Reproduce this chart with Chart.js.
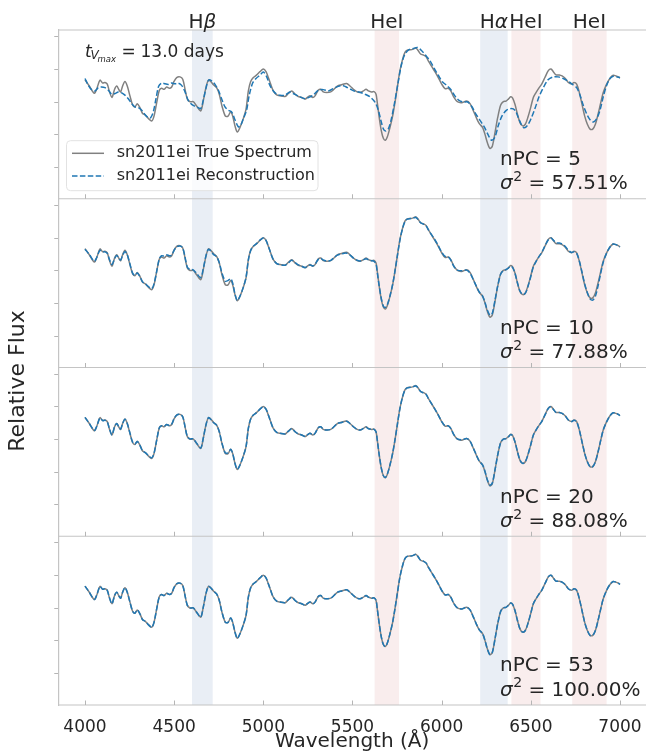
<!DOCTYPE html>
<html><head><meta charset="utf-8">
<script src="https://cdn.jsdelivr.net/npm/chart.js@4.4.1/dist/chart.umd.min.js"></script>
<style>html,body{margin:0;padding:0;background:#fff;}canvas{display:block;}</style>
</head><body>
<canvas id="c" width="646" height="756" style="width:646px;height:756px"></canvas>
<script>
// ---------- data ----------
const waveTrue = [4000,4024,4052,4065,4084,4099,4112,4125,4136,4151,
 4166,4178,4192,4200,4211,4224,4237,4252,4267,4280,
 4293,4308,4323,4338,4355,4374,4387,4402,4417,4430,
 4443,4458,4473,4486,4499,4514,4533,4548,4561,4574,
 4589,4607,4626,4649,4663,4678,4692,4705,4720,4738,
 4753,4768,4787,4802,4817,4828,4841,4854,4869,4888,
 4903,4916,4929,4944,4963,4981,5000,5015,5028,5041,
 5056,5075,5094,5122,5140,5159,5178,5196,5215,5234,
 5247,5262,5277,5290,5308,5322,5336,5355,5378,5396,
 5415,5439,5467,5486,5505,5523,5542,5561,5576,5589,
 5607,5621,5632,5639,5650,5662,5673,5684,5695,5710,
 5725,5738,5751,5766,5781,5794,5807,5826,5841,5856,
 5869,5882,5897,5912,5925,5944,5962,5981,6000,6019,
 6037,6051,6069,6088,6112,6140,6159,6178,6196,6211,
 6230,6243,6256,6271,6284,6299,6314,6331,6346,6361,
 6374,6387,6398,6411,6424,6439,6454,6469,6484,6499,
 6514,6529,6544,6561,6579,6598,6613,6626,6641,6660,
 6675,6692,6710,6729,6742,6757,6772,6787,6802,6817,
 6832,6847,6862,6877,6892,6906,6925,6944,6962,6977,
 6990,7000];
const fluxTrue = [3.68,3.49,3.27,3.39,3.67,3.58,3.60,3.55,3.34,3.14,
 3.39,3.49,3.36,3.31,3.49,3.63,3.49,3.19,2.91,2.85,
 2.95,2.83,2.65,2.60,2.50,2.42,2.57,2.98,3.36,3.42,
 3.39,3.46,3.42,3.46,3.63,3.75,3.77,3.70,3.39,3.09,
 3.01,3.01,2.88,2.73,3.03,3.44,3.67,3.63,3.53,3.44,
 3.24,2.88,2.57,2.57,2.70,2.57,2.27,2.08,2.22,2.50,
 2.78,3.34,3.63,3.75,3.83,3.93,4.01,3.93,3.75,3.55,
 3.34,3.22,3.19,3.17,3.26,3.34,3.24,3.17,3.14,3.09,
 3.14,3.19,3.14,3.19,3.36,3.39,3.31,3.29,3.31,3.39,
 3.49,3.53,3.57,3.49,3.39,3.32,3.29,3.34,3.39,3.34,
 3.31,3.32,3.24,2.98,2.52,2.11,1.89,1.83,1.93,2.22,
 2.57,2.98,3.44,3.96,4.31,4.52,4.59,4.60,4.62,4.65,
 4.57,4.47,4.44,4.39,4.26,4.09,3.93,3.75,3.55,3.41,
 3.42,3.34,3.14,3.01,2.98,3.03,2.95,2.73,2.50,2.34,
 2.22,2.01,1.76,1.58,1.65,2.06,2.52,2.91,3.01,3.03,
 3.09,3.16,3.12,2.93,2.65,2.37,2.27,2.32,2.54,2.83,
 3.14,3.29,3.42,3.55,3.75,3.96,4.01,3.93,3.83,3.83,
 3.80,3.73,3.60,3.55,3.60,3.55,3.29,2.93,2.57,2.32,
 2.17,2.17,2.32,2.63,2.98,3.29,3.55,3.73,3.82,3.80,
 3.77,3.73];
const waveRecon5 = [4000,4019,4037,4056,4075,4093,4112,4131,4150,4168,
 4187,4206,4224,4243,4262,4280,4299,4318,4336,4355,
 4368,4383,4398,4413,4430,4449,4467,4486,4505,4523,
 4542,4561,4579,4598,4617,4635,4649,4663,4678,4693,
 4710,4729,4748,4766,4785,4804,4822,4841,4860,4873,
 4888,4906,4921,4940,4959,4981,5000,5019,5037,5056,
 5075,5093,5121,5149,5168,5205,5234,5262,5280,5308,
 5336,5364,5392,5420,5448,5472,5490,5514,5542,5570,
 5598,5626,5645,5660,5673,5686,5701,5716,5735,5753,
 5772,5791,5813,5841,5865,5888,5910,5935,5959,5981,
 6004,6028,6052,6075,6097,6121,6146,6168,6191,6215,
 6239,6262,6280,6299,6318,6340,6364,6389,6411,6430,
 6449,6464,6482,6501,6523,6546,6570,6598,6626,6654,
 6682,6706,6733,6757,6776,6794,6813,6832,6850,6869,
 6888,6906,6925,6944,6962,6981,7000];
const fluxRecon5 = [3.72,3.51,3.38,3.34,3.44,3.46,3.44,3.36,3.24,3.26,
 3.31,3.28,3.21,3.10,2.95,2.85,2.83,2.75,2.62,2.52,
 2.52,2.70,3.10,3.48,3.58,3.56,3.54,3.58,3.56,3.58,
 3.51,3.31,3.05,2.93,2.87,2.83,2.80,3.05,3.41,3.67,
 3.65,3.54,3.36,3.10,2.85,2.75,2.70,2.46,2.24,2.29,
 2.49,2.75,3.21,3.58,3.72,3.82,3.92,3.77,3.51,3.34,
 3.24,3.21,3.21,3.31,3.26,3.16,3.10,3.16,3.21,3.36,
 3.38,3.34,3.41,3.48,3.50,3.44,3.39,3.33,3.30,3.24,
 3.16,3.00,2.75,2.42,2.18,2.11,2.18,2.44,2.95,3.51,
 4.08,4.43,4.59,4.64,4.67,4.57,4.43,4.26,4.02,3.82,
 3.62,3.51,3.38,3.18,3.05,3.00,3.00,2.87,2.64,2.44,
 2.24,1.98,1.83,1.93,2.29,2.59,2.75,2.80,2.75,2.52,
 2.29,2.21,2.29,2.49,2.80,3.16,3.44,3.69,3.77,3.77,
 3.72,3.65,3.54,3.44,3.21,2.90,2.64,2.46,2.39,2.49,
 2.75,3.16,3.51,3.72,3.79,3.77,3.75];
const fluxRecon10 = [3.66,3.50,3.29,3.40,3.63,3.58,3.58,3.53,3.36,3.19,
 3.37,3.47,3.36,3.33,3.47,3.59,3.49,3.21,2.93,2.86,
 2.93,2.82,2.66,2.60,2.52,2.45,2.60,2.98,3.37,3.46,
 3.45,3.49,3.46,3.48,3.62,3.73,3.76,3.70,3.42,3.11,
 3.04,3.03,2.92,2.79,3.06,3.45,3.66,3.61,3.50,3.43,
 3.25,2.93,2.68,2.70,2.76,2.63,2.29,2.09,2.22,2.50,
 2.80,3.33,3.62,3.75,3.84,3.94,4.00,3.93,3.75,3.55,
 3.34,3.22,3.19,3.17,3.24,3.32,3.25,3.18,3.14,3.10,
 3.14,3.18,3.15,3.20,3.35,3.38,3.33,3.30,3.32,3.40,
 3.48,3.52,3.54,3.48,3.39,3.33,3.30,3.34,3.37,3.34,
 3.31,3.29,3.20,2.95,2.52,2.14,1.92,1.88,1.96,2.23,
 2.58,2.99,3.44,3.94,4.30,4.50,4.58,4.60,4.62,4.63,
 4.56,4.47,4.43,4.38,4.26,4.10,3.95,3.77,3.57,3.44,
 3.43,3.33,3.13,3.02,3.00,3.02,2.93,2.72,2.51,2.35,
 2.22,2.03,1.80,1.64,1.70,2.10,2.53,2.90,3.01,3.04,
 3.08,3.14,3.10,2.93,2.65,2.38,2.28,2.31,2.52,2.81,
 3.12,3.28,3.42,3.56,3.76,3.95,4.00,3.94,3.86,3.85,
 3.82,3.75,3.63,3.56,3.58,3.53,3.30,2.96,2.60,2.33,
 2.14,2.10,2.22,2.54,2.93,3.26,3.54,3.73,3.82,3.80,
 3.77,3.73];
const fluxRecon20 = [3.68,3.49,3.28,3.39,3.66,3.58,3.59,3.54,3.35,3.14,
 3.39,3.49,3.36,3.32,3.49,3.62,3.49,3.20,2.92,2.86,
 2.94,2.82,2.65,2.60,2.51,2.44,2.58,2.98,3.36,3.42,
 3.40,3.46,3.43,3.47,3.63,3.75,3.77,3.70,3.39,3.09,
 3.02,3.02,2.89,2.74,3.04,3.44,3.67,3.62,3.52,3.44,
 3.24,2.89,2.59,2.59,2.70,2.58,2.27,2.09,2.22,2.50,
 2.78,3.34,3.63,3.75,3.83,3.93,4.00,3.93,3.75,3.55,
 3.34,3.22,3.19,3.17,3.25,3.33,3.24,3.17,3.14,3.09,
 3.14,3.19,3.14,3.19,3.36,3.39,3.32,3.29,3.31,3.39,
 3.49,3.52,3.56,3.49,3.39,3.32,3.29,3.34,3.38,3.33,
 3.31,3.31,3.23,2.98,2.52,2.12,1.90,1.84,1.94,2.22,
 2.58,2.98,3.44,3.95,4.31,4.51,4.58,4.60,4.62,4.64,
 4.57,4.47,4.43,4.39,4.26,4.09,3.93,3.75,3.55,3.42,
 3.42,3.34,3.14,3.02,2.99,3.03,2.95,2.73,2.51,2.34,
 2.22,2.02,1.77,1.60,1.67,2.07,2.52,2.91,3.01,3.03,
 3.08,3.15,3.11,2.93,2.65,2.37,2.27,2.32,2.54,2.83,
 3.13,3.29,3.42,3.55,3.75,3.95,4.00,3.93,3.83,3.83,
 3.80,3.73,3.60,3.55,3.59,3.54,3.29,2.93,2.58,2.32,
 2.17,2.17,2.32,2.62,2.98,3.29,3.54,3.73,3.82,3.80,
 3.77,3.73];
// with all 53 components the reconstruction coincides with the true spectrum
const fluxRecon53 = fluxTrue.slice();

const nPCValues = [5, 10, 20, 53];
const varianceLabels = ['57.51%', '77.88%', '88.08%', '100.00%'];
const bandStart = [4600, 5624, 6216, 6391, 6732];
const bandEnd   = [4716, 5761, 6370, 6554, 6925];
const bandKind  = ['H', 'He', 'H', 'He', 'He'];
const bandName  = [['H','β'], ['HeI',''], ['H','α'], ['HeI',''], ['HeI','']];
const xTicks = [4000, 4500, 5000, 5500, 6000, 6500, 7000];
const yTicks = [1, 2, 3, 4, 5];
const legendLabels = ['sn2011ei True Spectrum', 'sn2011ei Reconstruction'];

// ---------- chart ----------
const FONT = "'DejaVu Sans'";
const TXT = '#262626';
const GRAY = '#808080', BLUE = '#1f77b4';
const FRAME = '#c4c4c4';
Chart.defaults.font.family = FONT;
Chart.defaults.color = TXT;

const panelIds = ['p1', 'p2', 'p3', 'p4'];
const reconSets = [[waveRecon5, fluxRecon5], [waveTrue, fluxRecon10], [waveTrue, fluxRecon20], [waveTrue, fluxRecon53]];
function pts(w, f) { return w.map((x, i) => ({x: x, y: f[i]})); }

const datasets = [];
panelIds.forEach((id, i) => {
  datasets.push({label: legendLabels[0], data: pts(waveTrue, fluxTrue), yAxisID: id, xAxisID: 'x',
    borderColor: GRAY, borderWidth: 1.5, pointRadius: 0, tension: 0.3, order: 1});
  datasets.push({label: legendLabels[1], data: pts(reconSets[i][0], reconSets[i][1]), yAxisID: id, xAxisID: 'x',
    borderColor: BLUE, borderWidth: 1.5, borderDash: [5.5, 2.4], pointRadius: 0, tension: 0.3, order: 0});
});

function yAxis() {
  return {
    type: 'linear', position: 'left', stack: 'panels', stackWeight: 1,
    min: 0.04, max: 5.205,
    afterBuildTicks: s => { s.ticks = yTicks.map(v => ({value: v})); },
    afterFit: s => { s.width = 58.25; },
    ticks: {display: false},
    grid: {display: true, drawOnChartArea: false, drawTicks: true, tickLength: 4, color: '#b5b5b5', lineWidth: 1},
    border: {display: true, color: FRAME, width: 1.2}
  };
}

function drawParts(ctx, parts, y) {
  for (const p of parts) { ctx.font = p.f; ctx.fillText(p.t, p.x, y + (p.dy || 0)); }
}

const decor = {
  id: 'decor',
  beforeDatasetsDraw(chart) {
    const {ctx, chartArea: ca, scales} = chart;
    const xs = scales.x;
    ctx.save();
    for (let i = 0; i < bandStart.length; i++) {
      const x0 = xs.getPixelForValue(bandStart[i]), x1 = xs.getPixelForValue(bandEnd[i]);
      ctx.fillStyle = bandKind[i] === 'H' ? 'rgba(76,114,176,0.12)' : 'rgba(196,78,82,0.10)';
      ctx.fillRect(x0, ca.top, x1 - x0, ca.bottom - ca.top);
    }
    ctx.restore();
  },
  afterDatasetsDraw(chart) {
    const {ctx, chartArea: ca, scales} = chart;
    const xs = scales.x;
    ctx.save();
    // frame lines and inward x tick marks
    ctx.strokeStyle = FRAME; ctx.lineWidth = 1.2;
    ctx.beginPath(); ctx.moveTo(ca.left, ca.top); ctx.lineTo(ca.right, ca.top); ctx.stroke();
    panelIds.forEach(id => {
      const s = scales[id];
      ctx.strokeStyle = FRAME; ctx.lineWidth = 1.2;
      ctx.beginPath(); ctx.moveTo(ca.left, s.bottom); ctx.lineTo(ca.right, s.bottom); ctx.stroke();
      ctx.strokeStyle = '#b5b5b5'; ctx.lineWidth = 1;
      xTicks.forEach(v => {
        const px = Math.round(xs.getPixelForValue(v)) + 0.5;
        ctx.beginPath(); ctx.moveTo(px, s.bottom - 4.5); ctx.lineTo(px, s.bottom); ctx.stroke();
      });
    });
    ctx.fillStyle = TXT;
    ctx.textBaseline = 'alphabetic';
    // band labels
    for (let i = 0; i < bandStart.length; i++) {
      const cx = (xs.getPixelForValue(bandStart[i]) + xs.getPixelForValue(bandEnd[i])) / 2;
      const [a, b] = bandName[i];
      ctx.font = '20px ' + FONT; const wa = ctx.measureText(a).width;
      ctx.font = 'italic 20px ' + FONT; const wb = b ? ctx.measureText(b).width : 0;
      let x = cx - (wa + wb) / 2;
      ctx.textAlign = 'left';
      ctx.font = '20px ' + FONT; ctx.fillText(a, x, 28);
      if (b) { ctx.font = 'italic 20px ' + FONT; ctx.fillText(b, x + wa, 28); }
    }
    // nPC and explained variance
    ctx.textAlign = 'left';
    panelIds.forEach((id, i) => {
      const t = scales[id].top;
      ctx.font = '20px ' + FONT;
      ctx.fillText('nPC = ' + nPCValues[i], 500, t + 135);
      let x = 500;
      ctx.font = 'italic 20px ' + FONT; ctx.fillText('σ', x, t + 159.3); x += ctx.measureText('σ').width + 0.5;
      ctx.font = '14px ' + FONT; ctx.fillText('2', x, t + 151);
      x += ctx.measureText('2').width;
      ctx.font = '20px ' + FONT; ctx.fillText(' = ' + varianceLabels[i], x, t + 159.3);
    });
    // epoch label in the first panel
    const t1 = scales.p1.top;
    drawParts(ctx, [
      {t: 't', f: 'italic 17px ' + FONT, x: 85},
      {t: 'V', f: 'italic 12px ' + FONT, x: 90.5, dy: 2.6},
      {t: 'max', f: 'italic 8.5px ' + FONT, x: 97.5, dy: 5},
      {t: '=', f: '17px ' + FONT, x: 121.5},
      {t: '13.0 days', f: '17px ' + FONT, x: 140.5}
    ], t1 + 26.7);
    // legend
    const lx = 66.5, ly = t1 + 110.7, lw = 251.5, lh = 50;
    ctx.beginPath();
    ctx.roundRect(lx, ly, lw, lh, 4);
    ctx.fillStyle = 'rgba(255,255,255,0.8)'; ctx.fill();
    ctx.strokeStyle = '#e2e2e2'; ctx.lineWidth = 1; ctx.stroke();
    const rows = [t1 + 123.3, t1 + 146];
    ctx.lineWidth = 1.5;
    ctx.strokeStyle = GRAY; ctx.setLineDash([]);
    ctx.beginPath(); ctx.moveTo(72, rows[0]); ctx.lineTo(104, rows[0]); ctx.stroke();
    ctx.strokeStyle = BLUE; ctx.setLineDash([5.5, 2.4]);
    ctx.beginPath(); ctx.moveTo(72, rows[1]); ctx.lineTo(104, rows[1]); ctx.stroke();
    ctx.setLineDash([]);
    ctx.fillStyle = TXT; ctx.font = '16px ' + FONT; ctx.textBaseline = 'middle';
    ctx.fillText(legendLabels[0], 116.7, rows[0]);
    ctx.fillText(legendLabels[1], 116.7, rows[1]);
    // y title
    ctx.save();
    ctx.translate(24, 381); ctx.rotate(-Math.PI / 2);
    ctx.textAlign = 'center'; ctx.textBaseline = 'alphabetic';
    ctx.font = '22px ' + FONT; ctx.fillText('Relative Flux', 0, 0);
    ctx.restore();
    ctx.restore();
  }
};

new Chart(document.getElementById('c'), {
  type: 'line',
  data: {datasets: datasets},
  options: {
    responsive: false, animation: false, devicePixelRatio: 1,
    layout: {padding: {top: 30, left: 0, right: 0, bottom: 0}},
    plugins: {legend: {display: false}, tooltip: {enabled: false}},
    scales: {
      x: {
        type: 'linear', position: 'bottom', min: 3850, max: 7145.8,
        afterBuildTicks: s => { s.ticks = xTicks.map(v => ({value: v})); },
        afterFit: s => { s.height = 51; },
        ticks: {autoSkip: false, maxRotation: 0, padding: 4, color: TXT, font: {size: 17}, callback: v => String(v)},
        grid: {display: false},
        border: {display: false},
        title: {display: true, text: 'Wavelength (Å)', color: TXT, font: {size: 20}, padding: {top: 0, bottom: 2}}
      },
      p4: yAxis(), p3: yAxis(), p2: yAxis(), p1: yAxis()
    }
  },
  plugins: [decor]
});
</script>
</body></html>
